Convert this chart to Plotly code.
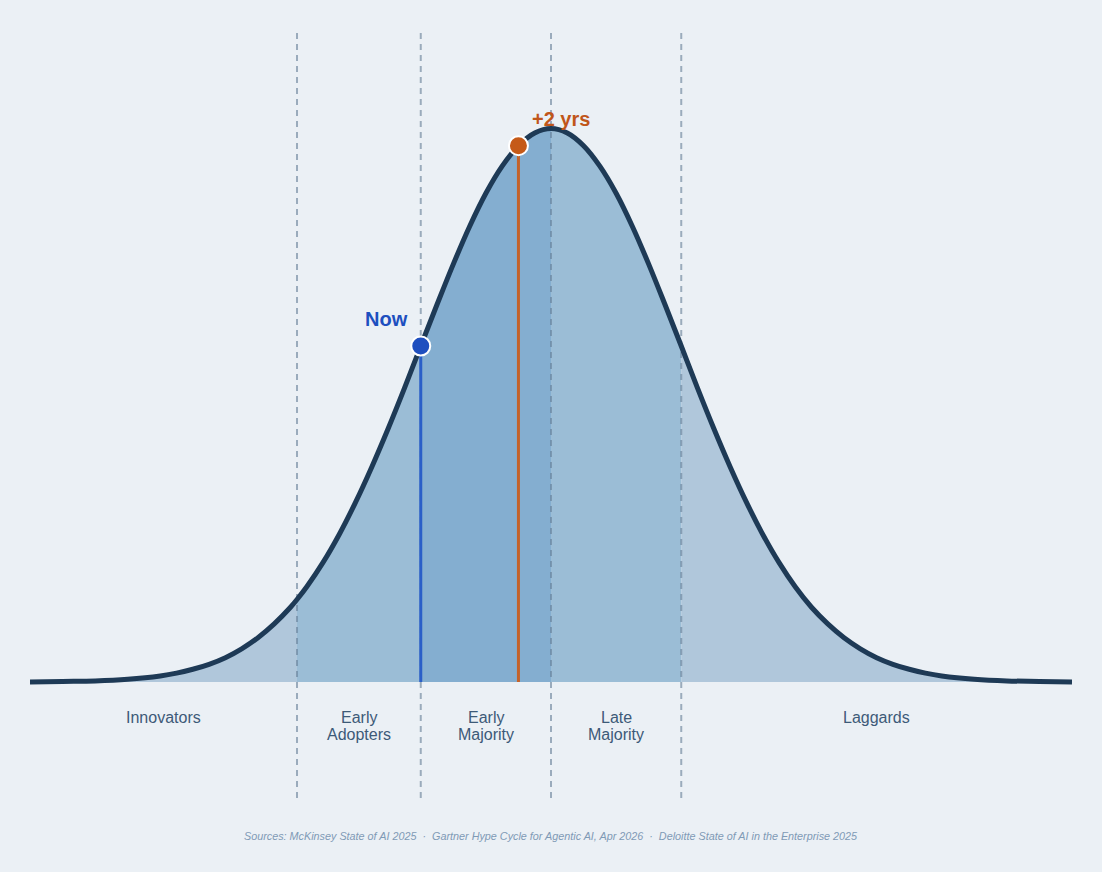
import plotly.graph_objects as go

# curve readings (x in std-dev units, height relative to peak)
curve_x = [-4.0, -3.75, -3.5, -3.25, -3.0, -2.875, -2.75, -2.625, -2.5, -2.375, -2.25, -2.125,
           -2.0, -1.95, -1.875, -1.75, -1.625, -1.5, -1.375, -1.25, -1.125, -1.0, -0.875, -0.75,
           -0.625, -0.5, -0.375, -0.25, -0.125, 0.0, 0.125, 0.25, 0.375, 0.5, 0.625, 0.75, 0.875,
           1.0, 1.125, 1.25, 1.375, 1.5, 1.625, 1.75, 1.875, 2.0, 2.125, 2.25, 2.375, 2.5, 2.625,
           2.75, 2.875, 3.0, 3.25, 3.5, 3.75, 4.0]
curve_y = [0.000, 0.001, 0.002, 0.005, 0.011, 0.016, 0.023, 0.032, 0.044, 0.060, 0.080, 0.105,
           0.135, 0.149, 0.172, 0.216, 0.267, 0.325, 0.389, 0.458, 0.531, 0.607, 0.682, 0.755,
           0.823, 0.883, 0.932, 0.969, 0.992, 1.000, 0.992, 0.969, 0.932, 0.883, 0.823, 0.755, 0.682,
           0.607, 0.531, 0.458, 0.389, 0.325, 0.267, 0.216, 0.172, 0.135, 0.105, 0.080, 0.060, 0.044, 0.032,
           0.023, 0.016, 0.011, 0.005, 0.002, 0.001, 0.000]

# segment boundaries and labels
bounds = [-4.0, -1.95, -1.0, 0.0, 1.0, 4.0]
seg_colors = ["#b0c7db", "#9bbdd6", "#84aed0", "#9bbdd6", "#b0c7db"]
seg_labels = [["Innovators"], ["Early", "Adopters"], ["Early", "Majority"], ["Late", "Majority"], ["Laggards"]]

# markers
now_x, now_y = -1.0, 0.607
future_x, future_y = -0.25, 0.969

sources = ("Sources: McKinsey State of AI 2025  ·  Gartner Hype Cycle for Agentic AI, Apr 2026  ·  "
           "Deloitte State of AI in the Enterprise 2025")

BG = "#ebf0f5"
FONT = "Liberation Sans, Arial, sans-serif"
Y_RANGE = [-0.2096, 1.178]

fig = go.Figure()

# shaded segments under the curve
for i, col in enumerate(seg_colors):
    lo, hi = bounds[i], bounds[i + 1]
    xs = [x for x in curve_x if lo <= x <= hi]
    ys = [y for x, y in zip(curve_x, curve_y) if lo <= x <= hi]
    fig.add_trace(go.Scatter(x=xs, y=ys, mode="lines", line=dict(width=0, shape="spline"),
                             fill="tozeroy", fillcolor=col, hoverinfo="skip", showlegend=False))

# dashed boundaries (full height)
for b in bounds[1:-1]:
    fig.add_trace(go.Scatter(x=[b, b], y=Y_RANGE, mode="lines", cliponaxis=False,
                             line=dict(color="rgba(100,125,150,0.6)", width=2, dash="6px,5px"),
                             hoverinfo="skip", showlegend=False))

# vertical markers
fig.add_trace(go.Scatter(x=[now_x, now_x], y=[0, now_y], mode="lines",
                         line=dict(color="#2a5fc8", width=3), hoverinfo="skip", showlegend=False))
fig.add_trace(go.Scatter(x=[future_x, future_x], y=[0, future_y], mode="lines",
                         line=dict(color="#c4622a", width=3), hoverinfo="skip", showlegend=False))

# bell curve
fig.add_trace(go.Scatter(x=curve_x, y=curve_y, mode="lines",
                         line=dict(color="#1e3a56", width=5, shape="spline"),
                         hoverinfo="skip", showlegend=False))

fig.add_trace(go.Scatter(x=[now_x], y=[now_y], mode="markers",
                         marker=dict(size=19, color="#1f4fbf", line=dict(color="white", width=2)),
                         showlegend=False))
fig.add_trace(go.Scatter(x=[future_x], y=[future_y], mode="markers",
                         marker=dict(size=19, color="#c55a18", line=dict(color="white", width=2)),
                         showlegend=False))

# segment labels
for i, lines in enumerate(seg_labels):
    mid = (bounds[i] + bounds[i + 1]) / 2
    for j, txt in enumerate(lines):
        fig.add_annotation(x=mid, y=-0.065 - j * 0.029, text=txt, showarrow=False,
                           xanchor="center", yanchor="middle",
                           font=dict(family=FONT, size=16, color="#3d5a78"))

fig.add_annotation(x=-1.08, y=0.656, text="<b>Now</b>", showarrow=False,
                   xanchor="right", yanchor="middle",
                   font=dict(family=FONT, size=20, color="#1d4fbf"))
fig.add_annotation(x=-0.16, y=1.017, text="<b>+2 yrs</b>", showarrow=False,
                   xanchor="left", yanchor="middle",
                   font=dict(family=FONT, size=20, color="#c0561a"))

fig.add_annotation(x=0.5, xref="paper", y=-0.0495, yref="paper", text="<i>" + sources + "</i>",
                   showarrow=False, xanchor="center", yanchor="middle",
                   font=dict(family=FONT, size=10.8, color="#7f9ab5"))

fig.update_layout(
    width=1102, height=872,
    margin=dict(l=30, r=30, t=30, b=74),
    paper_bgcolor=BG, plot_bgcolor=BG,
    xaxis=dict(range=[-4, 4], visible=False, fixedrange=True),
    yaxis=dict(range=Y_RANGE, visible=False, fixedrange=True),
    showlegend=False,
)

fig.write_html("out.html", config={"displayModeBar": False},
               post_script="document.body.style.margin='0';document.body.style.background='%s';" % BG)
